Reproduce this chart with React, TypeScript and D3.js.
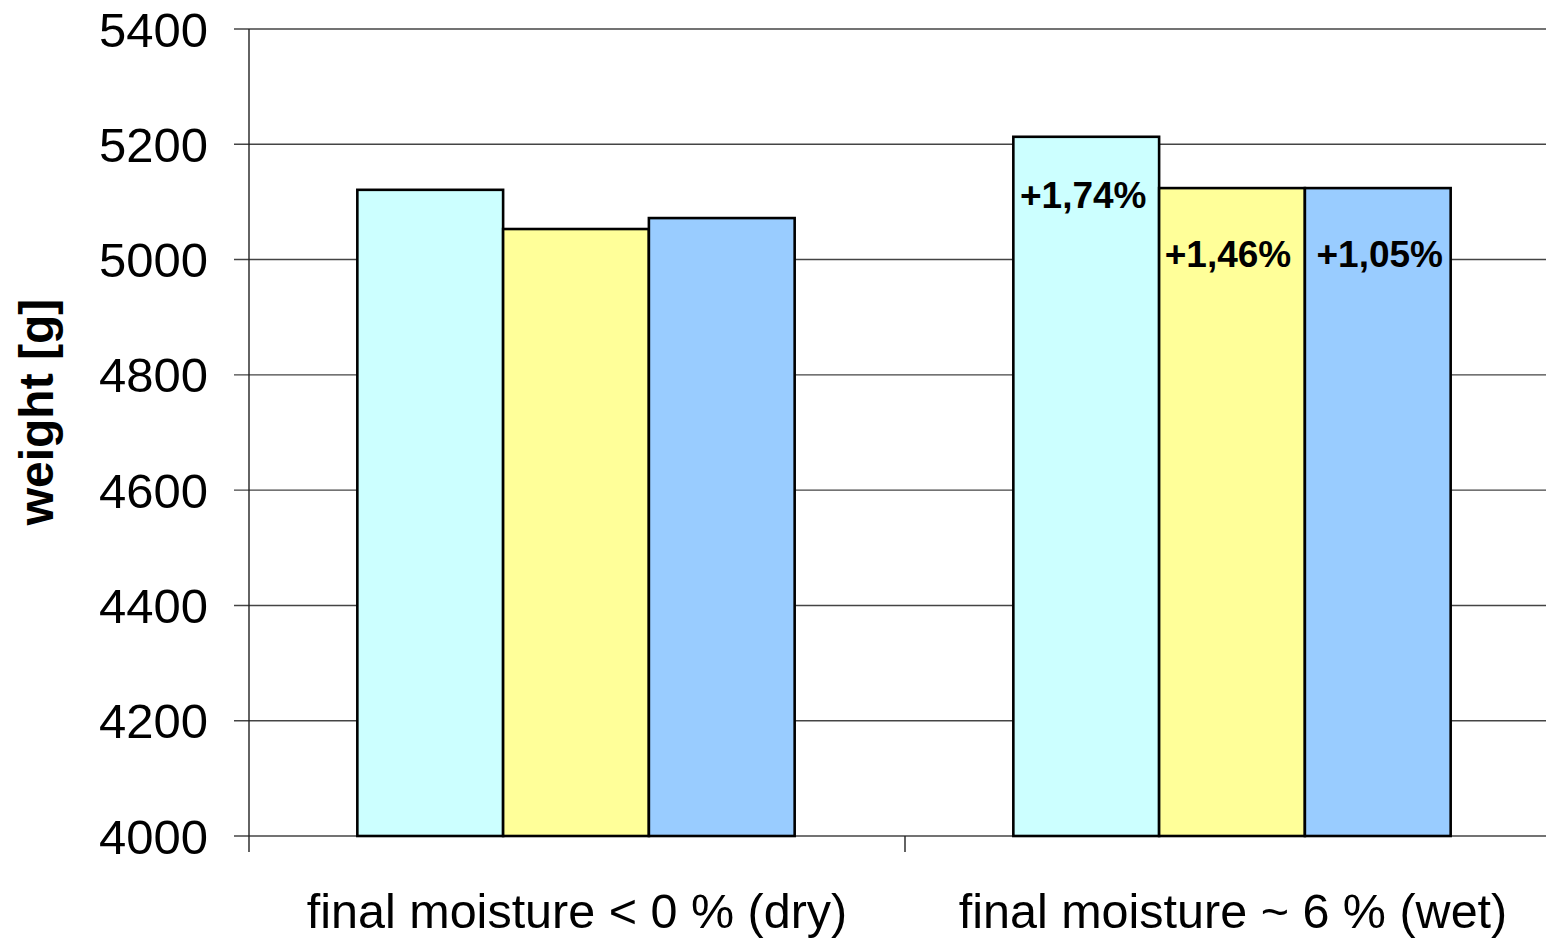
import React from "react";
import * as d3 from "d3";

const categories = ["final moisture < 0 % (dry)", "final moisture ~ 6 % (wet)"];
const seriesNames = ["A", "B", "C"];
const seriesColors = ["#CCFFFF", "#FFFF99", "#99CCFF"];
const valuesA = [5121, 5213];
const valuesB = [5053, 5124];
const valuesC = [5072, 5124];
const labelsWet = ["+1,74%", "+1,46%", "+1,05%"];
const yTicks = [4000, 4200, 4400, 4600, 4800, 5000, 5200, 5400];

const W = 1546;
const H = 939;
const FONT = "Arial, 'Liberation Sans', sans-serif";

export default function App() {
  const left = 249;
  const top = 29;
  const bottom = 836;
  const catWidth = 656;
  const x0 = d3
    .scaleBand<string>()
    .domain(categories)
    .range([left, left + catWidth * categories.length])
    .paddingInner(0)
    .paddingOuter(0);
  const y = d3.scaleLinear().domain([4000, 5400]).range([bottom, top]);
  const groupW = x0.bandwidth() * (3 / 4.5);
  const x1 = d3
    .scaleBand<string>()
    .domain(seriesNames)
    .range([0, groupW])
    .padding(0);
  const seriesValues = [valuesA, valuesB, valuesC];
  const labelOffsets = [71, 79, 79];
  const labelDx = [-3, -4, 2];

  return (
    <svg
      width={W}
      height={H}
      style={{ position: "absolute", left: 0, top: 0, display: "block", background: "#fff" }}
      fontFamily={FONT}
    >
      {yTicks.map((t) => (
        <g key={t}>
          <line x1={234} x2={W} y1={y(t)} y2={y(t)} stroke="#444" strokeWidth={1.4} />
          <text x={208} y={y(t)} dy="0.36em" textAnchor="end" fontSize={49} fill="#000">
            {t}
          </text>
        </g>
      ))}
      <line x1={left} x2={left} y1={top} y2={bottom + 16} stroke="#222" strokeWidth={1.4} />
      {categories.map((c, i) =>
        i > 0 ? (
          <line
            key={c}
            x1={x0(c)!}
            x2={x0(c)!}
            y1={bottom}
            y2={bottom + 16}
            stroke="#222"
            strokeWidth={1.4}
          />
        ) : null
      )}
      {categories.map((c, ci) => {
        const gx = x0(c)! + (x0.bandwidth() - groupW) / 2 - 1;
        return (
          <g key={c}>
            {seriesNames.map((s, si) => {
              const v = seriesValues[si][ci];
              return (
                <rect
                  key={s}
                  x={gx + x1(s)!}
                  y={y(v)}
                  width={x1.bandwidth()}
                  height={bottom - y(v)}
                  fill={seriesColors[si]}
                  stroke="#000"
                  strokeWidth={2.6}
                />
              );
            })}
            {ci === 1 &&
              seriesNames.map((s, si) => {
                const v = seriesValues[si][ci];
                return (
                  <text
                    key={s}
                    x={gx + x1(s)! + x1.bandwidth() / 2 + labelDx[si]}
                    y={y(v) + labelOffsets[si]}
                    textAnchor="middle"
                    fontSize={37}
                    fontWeight="bold"
                    fill="#000"
                  >
                    {labelsWet[si]}
                  </text>
                );
              })}
            <text
              x={x0(c)! + x0.bandwidth() / 2}
              y={928}
              textAnchor="middle"
              fontSize={48.5}
              fill="#000"
            >
              {c}
            </text>
          </g>
        );
      })}
      <text
        transform={`translate(53, 412) rotate(-90)`}
        textAnchor="middle"
        fontSize={48}
        fontWeight="bold"
        fill="#000"
      >
        weight [g]
      </text>
    </svg>
  );
}
